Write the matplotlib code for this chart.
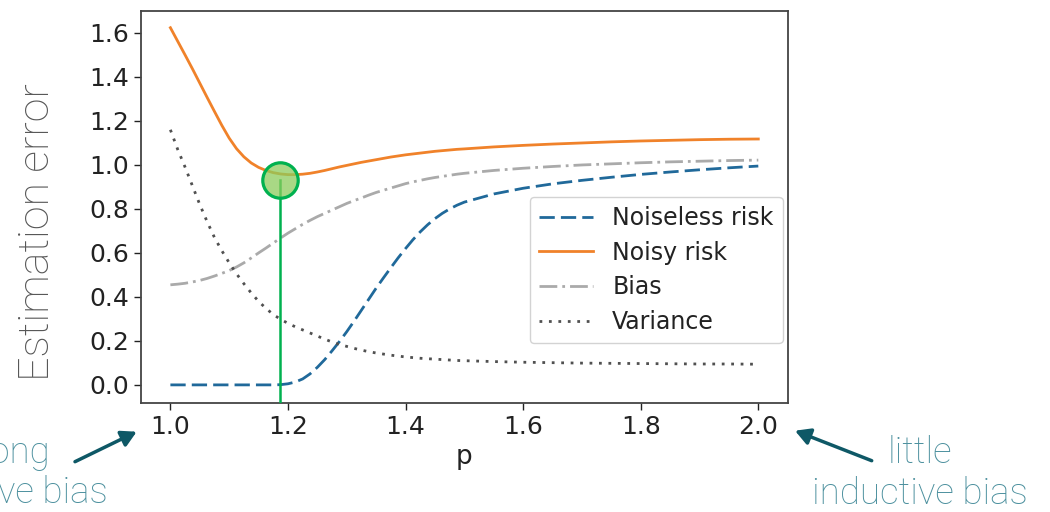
import matplotlib
matplotlib.use("Agg")
import matplotlib.pyplot as plt
from matplotlib.patches import FancyArrowPatch

plt.rcParams["font.family"] = ["DejaVu Sans"]

# ---------------- data ----------------
p_values = [1.0, 1.0125, 1.025, 1.0375, 1.05, 1.0625, 1.075, 1.0875, 1.1, 1.1125,
            1.125, 1.1375, 1.15, 1.1625, 1.175, 1.1875, 1.2, 1.2125, 1.225, 1.2375,
            1.25, 1.2625, 1.275, 1.2875, 1.3, 1.3125, 1.325, 1.3375, 1.35, 1.3625,
            1.375, 1.3875, 1.4, 1.4125, 1.425, 1.4375, 1.45, 1.4625, 1.475, 1.4875,
            1.5, 1.55, 1.6, 1.65, 1.7, 1.75, 1.8, 1.85, 1.9, 1.95, 2.0]

noiseless_risk = [0.0, 0.0, 0.0, 0.0, 0.0, 0.0, 0.0, 0.0, 0.0, 0.0,
                  0.0, 0.0, 0.0, 0.0, 0.0, 0.001, 0.005, 0.013, 0.027, 0.05,
                  0.08, 0.115, 0.155, 0.197, 0.242, 0.29, 0.34, 0.39, 0.44, 0.487,
                  0.533, 0.578, 0.62, 0.66, 0.696, 0.728, 0.756, 0.78, 0.80, 0.817,
                  0.831, 0.868, 0.894, 0.914, 0.93, 0.944, 0.957, 0.968, 0.978, 0.987, 0.995]

noisy_risk = [1.624, 1.562, 1.50, 1.437, 1.372, 1.307, 1.243, 1.18, 1.122, 1.074,
              1.037, 1.009, 0.989, 0.975, 0.965, 0.959, 0.956, 0.956, 0.958, 0.962,
              0.968, 0.975, 0.983, 0.991, 0.998, 1.005, 1.012, 1.018, 1.024, 1.03,
              1.036, 1.041, 1.046, 1.05, 1.054, 1.058, 1.062, 1.065, 1.068, 1.071,
              1.073, 1.082, 1.089, 1.095, 1.10, 1.105, 1.109, 1.112, 1.115, 1.117, 1.118]

bias = [0.455, 0.458, 0.462, 0.468, 0.475, 0.484, 0.495, 0.507, 0.52, 0.536,
        0.555, 0.577, 0.60, 0.622, 0.645, 0.668, 0.69, 0.71, 0.73, 0.748,
        0.765, 0.78, 0.795, 0.81, 0.825, 0.838, 0.85, 0.863, 0.875, 0.885,
        0.895, 0.905, 0.915, 0.923, 0.93, 0.937, 0.943, 0.948, 0.953, 0.958,
        0.962, 0.975, 0.985, 0.993, 1.0, 1.005, 1.01, 1.014, 1.017, 1.02, 1.022]

variance = [1.16, 1.07, 0.99, 0.905, 0.82, 0.742, 0.67, 0.61, 0.555, 0.505,
            0.46, 0.418, 0.38, 0.348, 0.32, 0.298, 0.28, 0.264, 0.25, 0.236,
            0.222, 0.208, 0.195, 0.184, 0.175, 0.166, 0.158, 0.151, 0.145, 0.14,
            0.135, 0.131, 0.127, 0.124, 0.121, 0.119, 0.117, 0.115, 0.113, 0.111,
            0.11, 0.106, 0.103, 0.101, 0.099, 0.098, 0.097, 0.096, 0.095, 0.095, 0.094]

series_labels = ["Noiseless risk", "Noisy risk", "Bias", "Variance"]
x_ticks = [1.0, 1.2, 1.4, 1.6, 1.8, 2.0]
y_ticks = [0.0, 0.2, 0.4, 0.6, 0.8, 1.0, 1.2, 1.4, 1.6]

opt_p = 1.186
opt_err = 0.933

# ---------------- figure ----------------
W, H = 1050, 512
fig = plt.figure(figsize=(W / 100, H / 100), dpi=100)
ax = fig.add_axes([141 / W, 1 - 402.7 / H, (787.7 - 141) / W, (402.7 - 11) / H])

ax.plot(p_values, noiseless_risk, color="#20699a", lw=2.0, linestyle=(0, (5.5, 2.2)),
        label=series_labels[0])
ax.plot(p_values, noisy_risk, color="#f0822a", lw=2.0, label=series_labels[1])
ax.plot(p_values, bias, color="#aaaaaa", lw=2.0, linestyle=(0, (6.4, 1.8, 1.0, 1.8)),
        label=series_labels[2])
ax.plot(p_values, variance, color="#505050", lw=2.0, linestyle=(0, (1.0, 2.4)),
        label=series_labels[3])

ax.set_xlim(0.95, 2.05)
ax.set_ylim(-0.081, 1.70)

# optimum marker
ymin = ax.get_ylim()[0]
ax.plot([opt_p, opt_p], [ymin, opt_err], color="#00b14f", lw=1.8, zorder=5)
ax.plot([opt_p], [opt_err], marker="o", markersize=25.5,
        markerfacecolor=(0.55, 0.80, 0.36, 0.75), markeredgecolor="#00b14f",
        markeredgewidth=2.3, zorder=6)

ax.set_xticks(x_ticks)
ax.set_yticks(y_ticks)
ax.set_xticklabels([f"{v:.1f}" for v in x_ticks], family="DejaVu Sans")
ax.set_yticklabels([f"{v:.1f}" for v in y_ticks], family="DejaVu Sans")
ax.tick_params(labelsize=18, colors="#222222", length=5, width=1.0)
for s in ax.spines.values():
    s.set_color("#444444")
    s.set_linewidth(1.3)

ax.set_xlabel("p", fontsize=19, color="#222222", labelpad=4, family="DejaVu Sans")

leg = ax.legend(loc="lower right",
                bbox_to_anchor=((783 - 141) / (787.7 - 141), (402.7 - 343.3) / (402.7 - 11)),
                borderaxespad=0, handlelength=2.3, labelspacing=0.45,
                framealpha=0.85, edgecolor="#cccccc",
                prop={"family": "DejaVu Sans", "size": 17})
for t in leg.get_texts():
    t.set_color("#222222")

thin_font = ["Roboto", "DejaVu Sans"]
# y label (thin font)
fig.text(38 / W, 1 - 232 / H, "Estimation error", rotation=90, ha="center", va="center",
         fontsize=31, color="#575757", family=thin_font, fontweight="light")

teal_text = "#4c909e"
fig.text(50 / W, 1 - 463 / H, "strong", ha="right", va="baseline", fontsize=26.5,
         color=teal_text, family=thin_font, fontweight="light")
fig.text(108 / W, 1 - 503 / H, "inductive bias", ha="right", va="baseline", fontsize=26.5,
         color=teal_text, family=thin_font, fontweight="light")
fig.text(920 / W, 1 - 463 / H, "little", ha="center", va="baseline", fontsize=26.5,
         color=teal_text, family=thin_font, fontweight="light")
fig.text(920 / W, 1 - 504 / H, "inductive bias", ha="center", va="baseline", fontsize=26.5,
         color=teal_text, family=thin_font, fontweight="light")

arrow_color = "#0e5866"
fig.add_artist(FancyArrowPatch(
    (75 / W, 1 - 461.7 / H), (136.7 / W, 1 - 431.7 / H), transform=fig.transFigure,
    arrowstyle="-|>,head_length=9,head_width=5", color=arrow_color, lw=2.5,
    shrinkA=0, shrinkB=0))
fig.add_artist(FancyArrowPatch(
    (871.7 / W, 1 - 460.7 / H), (795 / W, 1 - 430.7 / H), transform=fig.transFigure,
    arrowstyle="-|>,head_length=9,head_width=5", color=arrow_color, lw=2.5,
    shrinkA=0, shrinkB=0))

fig.savefig("out.png", dpi=100)
